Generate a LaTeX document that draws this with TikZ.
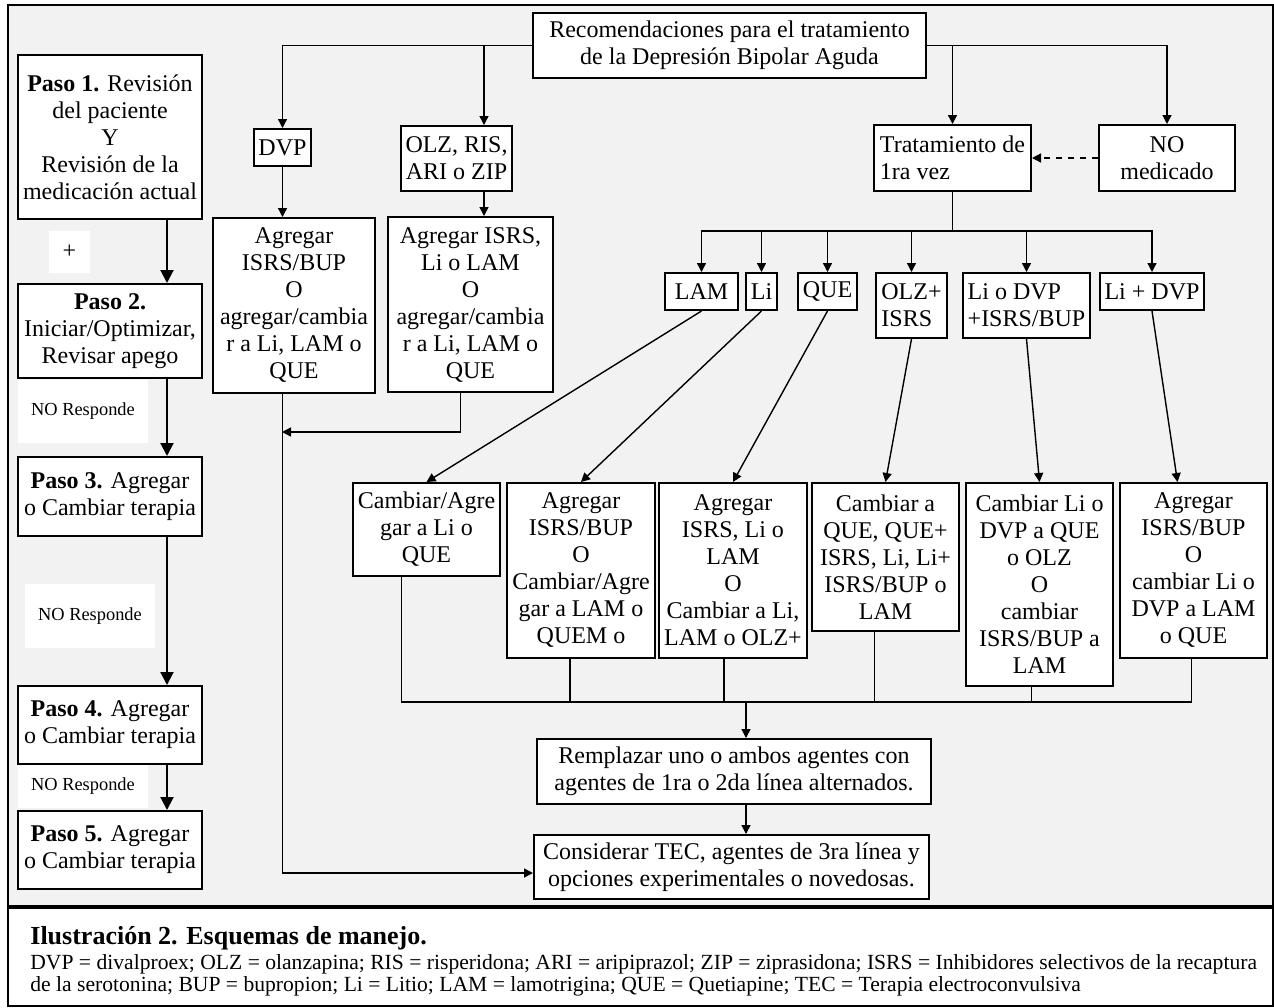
\documentclass[tikz,border=0pt]{standalone}
\usepackage{fontspec}
\setmainfont{Liberation Serif}
\usetikzlibrary{arrows.meta}
\definecolor{panelgray}{HTML}{F2F2F2}
\tikzset{
  box/.style={draw, line width=1pt, fill=white, align=center, inner sep=2pt, font=\fontsize{12}{13.5}\selectfont},
  note/.style={fill=white, inner sep=0pt, font=\fontsize{9.2}{11}\selectfont},
  arr/.style={-{Triangle[width=4.5pt,length=4.5pt]}, line width=0.7pt},
  arrstep/.style={-{Triangle[width=6.5pt,length=6.5pt]}, line width=1pt},
  link/.style={line width=0.7pt}
}

\begin{document}
\begin{tikzpicture}[x=0.5pt, y=-0.5pt]
        \useasboundingbox (0,0) rectangle (1274,1007);
        % Panel
        \fill[panelgray] (8,5) rectangle (1273,907);
        \draw[line width=0.75pt] (8,5) rectangle (1273,1006);
        \draw[line width=1.6pt] (8,907) -- (1273,907);

        % Steps on the left
        \node[box, minimum width=92pt, minimum height=82pt] (paso1) at (110,137) {\textbf{Paso 1.} Revisión\\del paciente\\Y\\Revisión de la\\medicación actual};
        \node[note, minimum width=20.5pt, minimum height=21pt, font=\fontsize{12}{13.5}\selectfont] (plus) at (69.5,252) {+};
        \node[box, minimum width=92pt, minimum height=47pt] (paso2) at (110,331) {\textbf{Paso 2.}\\Iniciar/Optimizar,\\Revisar apego};
        \node[note, minimum width=65pt, minimum height=31.5pt] (resp1) at (83,411.5) {NO Responde};
        \node[box, minimum width=92pt, minimum height=39.5pt] (paso3) at (110,496.5) {\textbf{Paso 3.} Agregar\\o Cambiar terapia};
        \node[note, minimum width=65pt, minimum height=32pt] (resp2) at (90,616) {NO Responde};
        \node[box, minimum width=92pt, minimum height=39pt] (paso4) at (110,725) {\textbf{Paso 4.} Agregar\\o Cambiar terapia};
        \node[note, minimum width=65pt, minimum height=21.5pt] (resp3) at (83,786.5) {NO Responde};
        \node[box, minimum width=92pt, minimum height=39pt] (paso5) at (110,850) {\textbf{Paso 5.} Agregar\\o Cambiar terapia};

        \coordinate (stepx) at (167,0);
        \draw[arrstep] (paso1.south -| stepx) -- (paso2.north -| stepx);
        \draw[arrstep] (paso2.south -| stepx) -- (paso3.north -| stepx);
        \draw[arrstep] (paso3.south -| stepx) -- (paso4.north -| stepx);
        \draw[arrstep] (paso4.south -| stepx) -- (paso5.north -| stepx);

        % Top of the scheme
        \node[box, minimum width=196.5pt, minimum height=32.5pt] (rec) at (729.5,45.5) {Recomendaciones para el tratamiento\\de la Depresión Bipolar Aguda};
        \node[box, minimum width=28.5pt, minimum height=18.5pt] (dvp) at (282.5,147.5) {DVP};
        \node[box, minimum width=55.5pt, minimum height=32.5pt] (olz) at (456.5,158.5) {OLZ, RIS,\\ARI o ZIP};
        \node[box, align=left, minimum width=78.5pt, minimum height=33pt] (trat) at (952.5,158) {Tratamiento de\\1ra vez};
        \node[box, minimum width=68pt, minimum height=33pt] (nomed) at (1167,158) {NO\\medicado};
        \node[box, minimum width=81pt, minimum height=87.5pt] (agr1) at (294,305.5) {Agregar\\ISRS/BUP\\O\\agregar/cambia\\r a Li, LAM o\\QUE};
        \node[box, minimum width=82.5pt, minimum height=87.5pt] (agr2) at (470.5,304.5) {Agregar ISRS,\\Li o LAM\\O\\agregar/cambia\\r a Li, LAM o\\QUE};

        \coordinate (olzx) at (484,0);
        \coordinate (mergeA) at (282,432);
        \draw[arr] (rec.west) -| (dvp.north);
        \draw[arr] (rec.west -| olzx) -- (olz.north -| olzx);
        \draw[arr] (rec.east) -| (nomed.north);
        \draw[arr] (rec.east -| trat.north) -- (trat.north);
        \draw[arr, dashed] (nomed.west) -- (trat.east);
        \draw[arr] (dvp.south) -- (agr1.north -| dvp.south);
        \draw[arr] (olz.south -| olzx) -- (agr2.north -| olzx);
        \draw[arr] ([xshift=-5pt]agr2.south) |- (mergeA);

        % First time treatment
        \node[box, minimum width=36.5pt, minimum height=18.5pt] (lam) at (701.5,291.5) {LAM};
        \node[box, minimum width=15.5pt, minimum height=18.5pt] (li) at (761.5,291.5) {Li};
        \node[box, minimum width=29.5pt, minimum height=18.5pt] (que) at (827.5,291.5) {QUE};
        \node[box, align=left, minimum width=35.5pt, minimum height=32.5pt] (olzisrs) at (911.5,305.5) {OLZ+\\ISRS};
        \node[box, align=left, minimum width=63.5pt, minimum height=32.5pt] (lidvp) at (1026.5,305.5) {Li o DVP\\+ISRS/BUP};
        \node[box, minimum width=52pt, minimum height=18.5pt] (lipdvp) at (1152,291.5) {Li + DVP};

        \foreach \n in {lam,li,que,olzisrs,lidvp,lipdvp}
        {
          \draw[arr] (trat.south) -- ++(0,39) -| (\n.north);
        }

        % Second choices
        \node[box, minimum width=73.5pt, minimum height=46.5pt] (cmb1) at (426.5,529.5) {Cambiar/Agre\\gar a Li o\\QUE};
        \node[box, minimum width=74pt, minimum height=87.5pt] (cmb2) at (581,570.5) {Agregar\\ISRS/BUP\\O\\Cambiar/Agre\\gar a LAM o\\QUEM o};
        \node[box, minimum width=74pt, minimum height=87.5pt] (cmb3) at (733,570.5) {Agregar\\ISRS, Li o\\LAM\\O\\Cambiar a Li,\\LAM o OLZ+};
        \node[box, minimum width=73.5pt, minimum height=74pt] (cmb4) at (885.5,557) {Cambiar a\\QUE, QUE+\\ISRS, Li, Li+\\ISRS/BUP o\\LAM};
        \node[box, minimum width=73.5pt, minimum height=101.5pt] (cmb5) at (1039.5,584.5) {Cambiar Li o\\DVP a QUE\\o OLZ\\O\\cambiar\\ISRS/BUP a\\LAM};
        \node[box, minimum width=73.5pt, minimum height=87.5pt] (cmb6) at (1193.5,570.5) {Agregar\\ISRS/BUP\\O\\cambiar Li o\\DVP a LAM\\o QUE};

        \draw[arr] (lam.south) -- (cmb1.north);
        \draw[arr] (li.south) -- (cmb2.north);
        \draw[arr] (que.south) -- (cmb3.north);
        \draw[arr] (olzisrs.south) -- (cmb4.north);
        \draw[arr] (lidvp.south) -- (cmb5.north);
        \draw[arr] (lipdvp.south) -- ([xshift=-8pt]cmb6.north);

        % Last steps
        \node[box, minimum width=197pt, minimum height=32.5pt] (rem) at (734,771.5) {Remplazar uno o ambos agentes con\\agentes de 1ra o 2da línea alternados.};
        \node[box, minimum width=197.5pt, minimum height=32pt] (cons) at (731.5,867) {Considerar TEC, agentes de 3ra línea y\\opciones experimentales o novedosas.};

        \coordinate (colx) at (746,702);
        \foreach \n/\s in {cmb1/-12.5,cmb2/-5.5,cmb3/-4.5,cmb4/-5.5,cmb5/-4,cmb6/-1}
        {
          \draw[link] ([xshift=\s pt]\n.south) |- (colx);
        }
        \draw[arr] (colx) -- (rem.north -| colx);
        \draw[arr] (rem.south -| colx) -- (cons.north -| colx);
        \draw[arr] (agr1.south -| dvp.south) |- ([yshift=-3pt]cons.west);

        % Caption
        \node[anchor=base west, inner sep=0pt, font=\bfseries\fontsize{13}{15}\selectfont] (captitle) at (30,944) {Ilustración 2. Esquemas de manejo.};
        \node[anchor=base west, inner sep=0pt, font=\fontsize{10.8}{12}\selectfont] (leg1) at (30,969) {DVP = divalproex; OLZ = olanzapina; RIS = risperidona; ARI = aripiprazol; ZIP = ziprasidona; ISRS = Inhibidores selectivos de la recaptura};
        \node[anchor=base west, inner sep=0pt, font=\fontsize{10.8}{12}\selectfont] (leg2) at (30,991) {de la serotonina; BUP = bupropion; Li = Litio; LAM = lamotrigina; QUE = Quetiapine; TEC = Terapia electroconvulsiva};
\end{tikzpicture}
\end{document}
